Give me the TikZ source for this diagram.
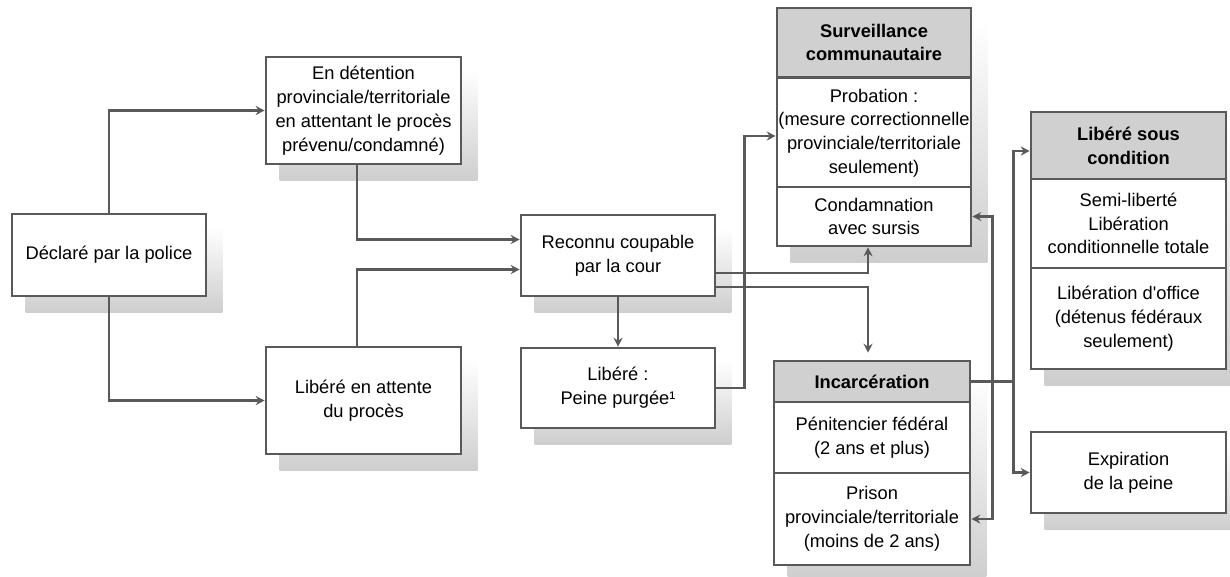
\documentclass[tikz,border=0pt]{standalone}
\usepackage{fontspec}
\setmainfont{Liberation Sans}
\usetikzlibrary{arrows.meta,calc,backgrounds}
\definecolor{ln}{HTML}{595959}
\definecolor{hd}{HTML}{D0D0D0}
\definecolor{sh}{HTML}{CECECE}
\begin{document}
\begin{tikzpicture}[x=1pt,y=-1pt,
  box/.style={draw=ln, line width=2.6pt, fill=white, align=center, inner sep=0pt,
    font=\fontsize{18.3}{23.8}\selectfont},
  hdr/.style={box, fill=hd, font=\bfseries\fontsize{18.3}{23.8}\selectfont},
  conn/.style={draw=ln, line width=2.9pt, -{Stealth[length=9pt,width=9pt,inset=3pt]}},
  plain/.style={draw=ln, line width=2.9pt},
  shad/.style={top color=white, middle color=sh, bottom color=sh}
]
\useasboundingbox (0,0) rectangle (1230,576);

% simple boxes
\node[box, minimum width=194, minimum height=82] (A) at (109,255) {Déclaré par la police};
\node[box, minimum width=195, minimum height=107] (B) at (363.5,110.5) {En détention\\provinciale/territoriale\\en attentant le procès\\prévenu/condamné)};
\node[box, minimum width=195, minimum height=107] (C) at (363.5,400.5) {Libéré en attente\\du procès};
\node[box, minimum width=194, minimum height=81] (D) at (618,255.5) {Reconnu coupable\\par la cour};
\node[box, minimum width=194, minimum height=80] (E) at (618,388) {Libéré :\\Peine purgée¹};

% Surveillance communautaire
\node[hdr, minimum width=194, minimum height=69] (F) at (874,42.5) {Surveillance\\communautaire};
\node[box, minimum width=194, minimum height=110] (F1) at (874,133) {Probation :\\(mesure correctionnelle\\provinciale/territoriale\\seulement)};
\node[box, minimum width=194, minimum height=59] (F2) at (874,216.5) {Condamnation\\avec sursis};

% Incarceration
\node[hdr, minimum width=196, minimum height=41] (G) at (872,381.5) {Incarcération};
\node[box, minimum width=196, minimum height=71] (G1) at (872,437.5) {Pénitencier fédéral\\(2 ans et plus)};
\node[box, minimum width=196, minimum height=92] (G2) at (872,519) {Prison\\provinciale/territoriale\\(moins de 2 ans)};

% Libere sous condition
\node[hdr, minimum width=195, minimum height=67] (H) at (1128.5,145.5) {Libéré sous\\condition};
\node[box, minimum width=195, minimum height=89] (H1) at (1128.5,223.5) {Semi-liberté\\Libération\\conditionnelle totale};
\node[box, minimum width=195, minimum height=101] (H2) at (1128.5,318.5) {Libération d\textquotesingle office\\(détenus fédéraux\\seulement)};

\node[box, minimum width=195, minimum height=81] (I) at (1128.5,472.5) {Expiration\\de la peine};

% shadows
\begin{scope}[on background layer]
  \foreach \a/\b in {A/A,B/B,C/C,D/D,E/E,F/F2,G/G2,H/H2,I/I}{
    \shade[shad] ($(\a.north west)+(15,14)$) rectangle ($(\b.south east)+(15,15)$);
  }
\end{scope}

% connectors
\draw[conn] (A.north) |- (B.west);
\draw[conn] (A.south) |- (C.west);
\draw[conn] ($(B.south)+(-6.5,0)$) |- ($(D.west)+(0,-16)$);
\draw[conn] ($(C.north)+(-6.5,0)$) |- ($(D.west)+(0,14)$);
\draw[conn] (D.south) -- (E.north);
\draw[conn] ($(D.east)+(0,17.5)$) -| ($(F2.south)+(-6,0)$);
\draw[conn] ($(D.east)+(0,31.5)$) -| ($(G.north)+(-4,-7)$);
\coordinate (e1) at ($(E.east)+(28,0)$);
\draw[conn] (E.east) -- (e1) |- ($(F1.west)+(0,3)$);

\coordinate (j1) at ($(G.east)+(21,0)$);
\coordinate (j2) at ($(G.east)+(42,0)$);
\draw[plain] (G.east) -- (j2);
\draw[conn] (j1) |- (F2.east);
\draw[conn] (j1) |- (G2.east);
\draw[conn] (j2) |- ($(H.west)+(0,5.5)$);
\draw[conn] (j2) |- (I.west);
\end{tikzpicture}
\end{document}
